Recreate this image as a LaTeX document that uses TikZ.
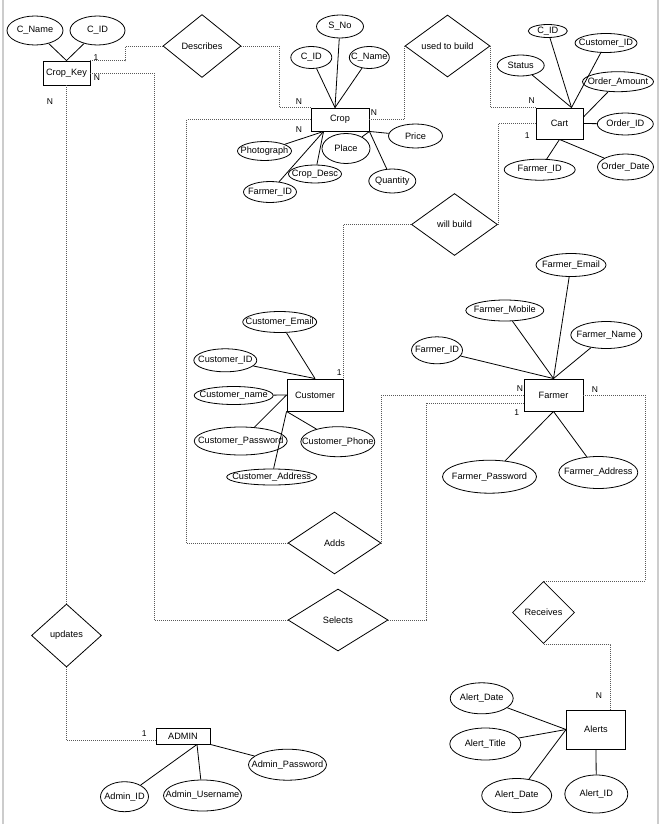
\documentclass[tikz,border=0pt]{standalone}
\usepackage{fontspec}
\setmainfont{Liberation Sans}
\usetikzlibrary{shapes.geometric,calc}

% attribute ellipse: name, x, y, width, height, text
\newcommand{\attrnode}[6]{%
  \node[erattr, minimum width=#4pt, minimum height=#5pt] (#1) at (#2,#3) {\makebox[0pt]{#6}};}
% relationship diamond: name, x, y, width, height, text
\newcommand{\relnode}[6]{%
  \node[errel, minimum width=#4pt, minimum height=#5pt] (#1) at (#2,#3) {\makebox[0pt]{#6}};}
% entity box: name, x, y, width, height, text
\newcommand{\entnode}[6]{%
  \node[erentity, minimum width=#4pt, minimum height=#5pt] (#1) at (#2,#3) {#6};}

\begin{document}
\begin{tikzpicture}[x=1pt,y=-1pt,
  font=\fontsize{9.2}{11}\selectfont,
  erentity/.style={draw, line width=0.9pt, inner sep=0pt},
  erattr/.style={ellipse, draw, line width=0.8pt, inner sep=0pt},
  errel/.style={diamond, draw, line width=0.8pt, inner sep=0pt},
  erlink/.style={line width=0.8pt},
  erconn/.style={draw=black!65, line width=0.8pt, dash pattern=on 1pt off 1pt},
  ercard/.style={font=\fontsize{8.5}{10}\selectfont, inner sep=0pt},
  sideline/.style={draw=black!20, line width=1.2pt}]

\useasboundingbox[fill=white] (0,0) rectangle (662,824);
\draw[sideline] (3,0) -- (3,824);
\draw[sideline] (658,0) -- (658,824);

% ---------- entities ----------
\entnode{ck}{66.5}{73}{47}{24}{Crop\_Key}
\entnode{crop}{340}{119.5}{58}{23}{Crop}
\entnode{cart}{559.5}{123.5}{47}{31}{Cart}
\entnode{cust}{315}{395}{56}{32}{Customer}
\entnode{farmer}{553.5}{395}{59}{32}{Farmer}
\entnode{admin}{183}{736}{54}{16}{ADMIN}
\entnode{alerts}{596}{729.5}{59}{39}{Alerts}

% ---------- relationships ----------
\relnode{desc}{202}{46}{78}{63}{Describes}
\relnode{utb}{447.5}{46}{85}{62}{used to build}
\relnode{wb}{454.5}{224.5}{86}{62}{will build}
\relnode{adds}{334.5}{543}{93}{62}{Adds}
\relnode{sel}{338}{620}{100}{62}{Selects}
\relnode{upd}{66.5}{635.5}{70}{63}{updates}
\relnode{rec}{543.5}{612.5}{62}{62}{Receives}

% ---------- attributes ----------
% Crop_Key
\attrnode{ckname}{35}{30.5}{56}{29}{C\_Name}
\attrnode{ckid}{97.5}{30.5}{55}{29}{C\_ID}
% Crop
\attrnode{sno}{340}{26.5}{47}{23}{S\_No}
\attrnode{cropcid}{311.3}{57.5}{41}{22}{C\_ID}
\attrnode{cropcname}{369.3}{57.5}{40}{22}{C\_Name}
\attrnode{photo}{264.5}{151}{54}{19}{Photograph}
\attrnode{place}{346}{148.5}{48}{30}{Place}
\attrnode{price}{415.5}{136}{54}{24}{Price}
\attrnode{cdesc}{315}{174}{53}{18}{Crop\_Desc}
\attrnode{qty}{392.3}{181}{47}{24}{Quantity}
\attrnode{cropfid}{270}{192}{53}{21}{Farmer\_ID}
% Cart
\attrnode{cartcid}{547.8}{31}{39}{13}{C\_ID}
\attrnode{cartcust}{606}{43}{62}{19}{Customer\_ID}
\attrnode{status}{520.7}{65.5}{47}{21}{Status}
\attrnode{oamount}{618}{81.7}{71}{20}{Order\_Amount}
\attrnode{oid}{625.3}{124}{56}{22}{Order\_ID}
\attrnode{cartfid}{539.7}{169.7}{71}{21}{Farmer\_ID}
\attrnode{odate}{625.5}{167}{56}{26}{Order\_Date}
% Customer
\attrnode{cemail}{279.7}{322}{74}{21}{Customer\_Email}
\attrnode{cid}{225.3}{360.3}{63}{23}{Customer\_ID}
\attrnode{cname}{233.7}{395.5}{79}{18}{Customer\_name}
\attrnode{cpass}{240.7}{441}{93}{28}{Customer\_Password}
\attrnode{cphone}{337.8}{441.7}{74}{30}{Customer\_Phone}
\attrnode{caddr}{271.7}{477}{90}{16}{Customer\_Address}
% Farmer
\attrnode{femail}{571}{265}{70}{23}{Farmer\_Email}
\attrnode{fmobile}{504.8}{310.5}{78}{21}{Farmer\_Mobile}
\attrnode{fname}{606.3}{335}{71}{27}{Farmer\_Name}
\attrnode{fid}{437}{350.3}{51}{27}{Farmer\_ID}
\attrnode{fpass}{489.5}{476.7}{94}{33}{Farmer\_Password}
\attrnode{faddr}{598.3}{472.5}{79}{32}{Farmer\_Address}
% ADMIN
\attrnode{aid}{124.5}{796.7}{48}{30}{Admin\_ID}
\attrnode{auser}{202.5}{795.5}{78}{31}{Admin\_Username}
\attrnode{apass}{287.5}{764.7}{78}{31}{Admin\_Password}
% Alerts
\attrnode{adate}{481.7}{698.3}{63}{31}{Alert\_Date}
\attrnode{atitle}{485.3}{744}{71}{32}{Alert\_Title}
\attrnode{adatetwo}{516.7}{795.5}{70}{34}{Alert\_Date}
\attrnode{alid}{596.3}{794}{63}{38}{Alert\_ID}

% ---------- attribute links ----------
\draw[erlink] (ck.north) -- (ckname);
\draw[erlink] (ck.north) -- (ckid);

\coordinate (croptop) at ($(crop.north)+(-5,0)$);
\coordinate (cropbl) at ($(crop.south west)+(13,0)$);
\draw[erlink] (croptop) -- (sno);
\draw[erlink] (croptop) -- (cropcid);
\draw[erlink] (croptop) -- (cropcname);
\draw[erlink] (cropbl) -- (photo);
\draw[erlink] (cropbl) -- (cdesc);
\draw[erlink] (cropbl) -- (cropfid);
\draw[erlink] (crop.south east) -- (place);
\draw[erlink] (crop.south east) -- (price);
\draw[erlink] (crop.south east) -- (qty);

\coordinate (carttop) at ($(cart.north)+(12,0)$);
\draw[erlink] (carttop) -- (cartcid);
\draw[erlink] (carttop) -- (cartcust);
\draw[erlink] (carttop) -- (status);
\draw[erlink] ($(cart.east)+(0,-6.5)$) -- (oamount);
\draw[erlink] (cart.east) -- (oid);
\draw[erlink] (cart.south) -- (cartfid);
\draw[erlink] (cart.south) -- (odate);

\draw[erlink] (cust.north) -- (cemail);
\draw[erlink] (cust.north) -- (cid);
\draw[erlink] (cust.west) -- (cname);
\draw[erlink] (cust.west) -- (cpass);
\draw[erlink] (cust.south west) -- (cphone);
\draw[erlink] (cust.south west) -- (caddr);

\draw[erlink] (farmer.north) -- (femail);
\draw[erlink] (farmer.north) -- (fmobile);
\draw[erlink] (farmer.north) -- (fname);
\draw[erlink] (farmer.north) -- (fid);
\draw[erlink] (farmer.south) -- (fpass);
\draw[erlink] (farmer.south) -- (faddr);

\coordinate (adminbot) at ($(admin.south)+(14,0)$);
\draw[erlink] (adminbot) -- (aid);
\draw[erlink] (adminbot) -- (auser);
\draw[erlink] (admin.south east) -- (apass);

\draw[erlink] (alerts.west) -- (adate);
\draw[erlink] (alerts.west) -- (atitle);
\draw[erlink] (alerts.west) -- (adatetwo);
\draw[erlink] (alerts.south) -- (alid);

% ---------- relationship connectors ----------
\draw[erconn] (ck.north east) -- ++(35,0) |- (desc.west);
\draw[erconn] (desc.east) -| ($(crop.north west)+(-31,0)$) -- (crop.north west);
\draw[erconn] (crop.east) -| (utb.west);
\draw[erconn] (utb.east) |- (cart.north west);
\draw[erconn] (cart.west) -| (wb.east);
\draw[erconn] (wb.west) -| (cust.north east);
\draw[erconn] (crop.west) -| ($(adds.west)+(-101,0)$) -- (adds.west);
\draw[erconn] (farmer.west) -| (adds.east);
\draw[erconn] (ck.east) -| ($(sel.west)+(-133,0)$) -- (sel.west);
\draw[erconn] (sel.east) -| ($(farmer.west)+(-97,8)$) -- ($(farmer.west)+(0,8)$);
\draw[erconn] (farmer.east) -| ($(rec.north)+(101.5,0)$) -- (rec.north);
\draw[erconn] (rec.south) -| ($(alerts.north)+(14.5,0)$);
\draw[erconn] (ck.south) -- (upd.north);
\draw[erconn] (upd.south) |- ($(admin.west)+(0,4.5)$);

% ---------- cardinalities ----------
\node[ercard] (k1) at (96,58) {1};
\node[ercard] (k2) at (97,78) {N};
\node[ercard] (k3) at (50,101.7) {N};
\node[ercard] (k4) at (299,101.5) {N};
\node[ercard] (k5) at (299,130) {N};
\node[ercard] (k6) at (374,113) {N};
\node[ercard] (k7) at (531.7,101) {N};
\node[ercard] (k8) at (527.3,136) {1};
\node[ercard] (k9) at (339.3,372.7) {1};
\node[ercard] (k10) at (520,388.3) {N};
\node[ercard] (k11) at (595,390) {N};
\node[ercard] (k12) at (516.7,412.7) {1};
\node[ercard] (k13) at (144.3,734) {1};
\node[ercard] (k14) at (599,696) {N};

\end{tikzpicture}
\end{document}
